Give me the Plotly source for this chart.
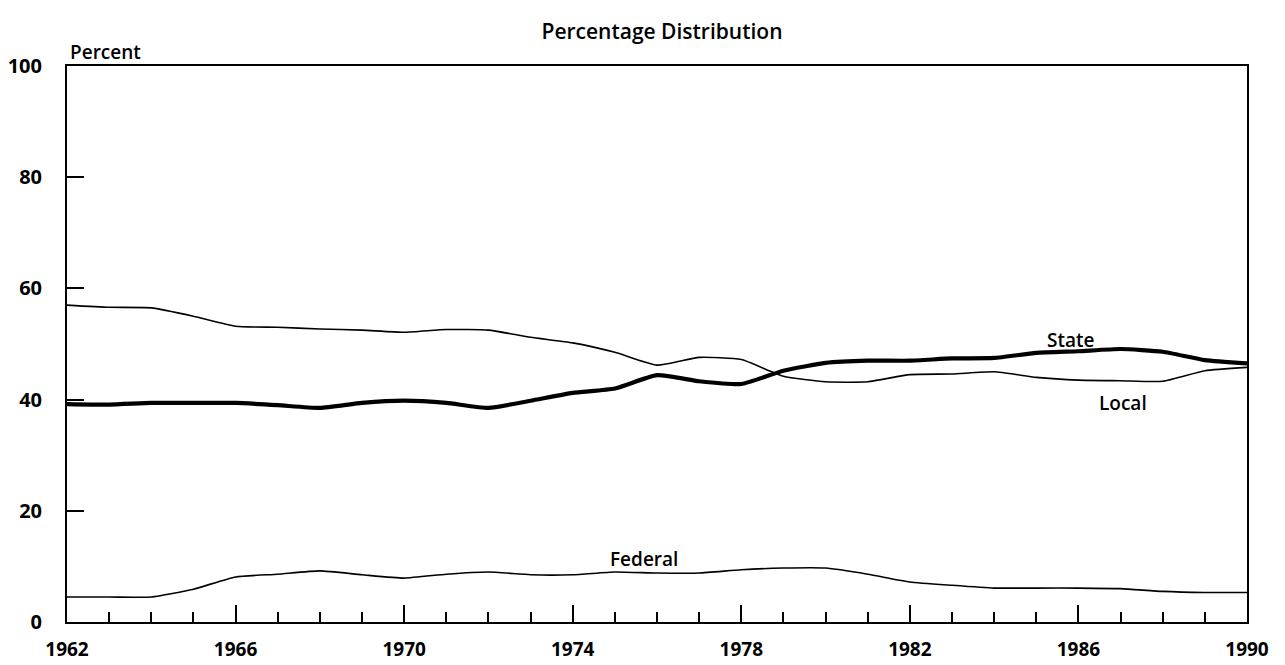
import plotly.graph_objects as go

years = list(range(1962, 1991))

local = [57.0, 56.6, 56.5, 55.0, 53.2, 53.0, 52.7, 52.5, 52.1, 52.6, 52.5, 51.2, 50.2, 48.5,
         46.2, 47.6, 47.2, 44.2, 43.2, 43.2, 44.5, 44.6, 45.0, 44.0, 43.5, 43.4, 43.3, 45.2, 45.8]

state = [39.2, 39.1, 39.4, 39.4, 39.4, 39.0, 38.5, 39.4, 39.8, 39.4, 38.5, 39.8, 41.2, 42.0,
         44.4, 43.3, 42.8, 45.2, 46.6, 47.0, 47.0, 47.4, 47.5, 48.4, 48.7, 49.1, 48.6, 47.1, 46.5]

federal = [4.5, 4.5, 4.5, 5.9, 8.1, 8.6, 9.2, 8.5, 7.9, 8.6, 9.0, 8.5, 8.5, 9.0,
           8.8, 8.8, 9.4, 9.7, 9.7, 8.6, 7.2, 6.6, 6.1, 6.1, 6.1, 6.0, 5.5, 5.3, 5.3]

series_labels = ["Local", "State", "Federal"]
label_x = [1987.05, 1985.8, 1975.7]
label_y = [39.4, 50.7, 11.3]
x_ticks = [1962, 1966, 1970, 1974, 1978, 1982, 1986, 1990]
y_ticks = [0, 20, 40, 60, 80, 100]

FONT = "Open Sans"
W, H = 1277, 657  # page body has an 8px margin

fig = go.Figure()
fig.add_trace(go.Scatter(x=years, y=local, mode="lines", name="Local",
                         line=dict(color="black", width=1.6, shape="spline", smoothing=0.5)))
fig.add_trace(go.Scatter(x=years, y=state, mode="lines", name="State",
                         line=dict(color="black", width=4.2, shape="spline", smoothing=0.5)))
fig.add_trace(go.Scatter(x=years, y=federal, mode="lines", name="Federal",
                         line=dict(color="black", width=1.6, shape="spline", smoothing=0.5)))

fig.update_layout(
    width=W, height=H,
    margin=dict(l=59, r=38, t=58, b=43, autoexpand=False),
    paper_bgcolor="white", plot_bgcolor="white",
    showlegend=False,
    font=dict(family=FONT, color="black"),
    title=dict(text="Percentage Distribution", x=654 / W, xanchor="center",
               y=1 - 24 / H, yanchor="middle",
               font=dict(family=FONT, size=21, color="black", weight=600)),
)

fig.update_xaxes(
    range=[1962, 1990], tickvals=x_ticks, ticktext=[str(v) for v in x_ticks],
    ticks="inside", ticklen=17, tickwidth=1.5, tickcolor="black",
    minor=dict(dtick=1, tick0=1962, ticks="inside", ticklen=10, tickwidth=1.5, tickcolor="black", showgrid=False),
    showline=True, linecolor="black", linewidth=2, mirror=True,
    showgrid=False, zeroline=False, automargin=False,
    ticklabelstandoff=9,
    tickfont=dict(family=FONT, size=19, color="black", weight="bold"),
)
fig.update_yaxes(
    range=[0, 100], tickvals=y_ticks, ticktext=[str(v) for v in y_ticks],
    ticks="inside", ticklen=17, tickwidth=1.5, tickcolor="black",
    showline=True, linecolor="black", linewidth=2, mirror=True,
    showgrid=False, zeroline=False, automargin=False,
    ticklabelstandoff=19,
    tickfont=dict(family=FONT, size=20, color="black", weight="bold"),
)

ann_font = dict(family=FONT, size=19, color="black", weight=600)
fig.add_annotation(text="Percent", xref="paper", yref="paper", x=0, y=1, xanchor="left",
                   yanchor="middle", yshift=14, xshift=1, showarrow=False,
                   font=dict(family=FONT, size=19, color="black", weight=600))
for name, lx, ly in zip(series_labels, label_x, label_y):
    fig.add_annotation(text=name, x=lx, y=ly, showarrow=False, font=ann_font)

fig.write_html("out.html")
